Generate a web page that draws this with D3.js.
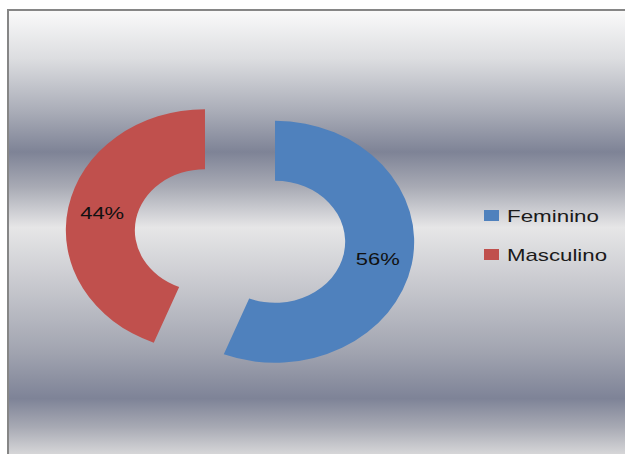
<!DOCTYPE html>
<html>
<head>
<meta charset="utf-8">
<script src="https://cdn.jsdelivr.net/npm/d3@7/dist/d3.min.js"></script>
<style>
  html, body { margin: 0; padding: 0; background: #ffffff; }
  svg { display: block; }
</style>
</head>
<body>
<svg id="chart" width="625" height="454"></svg>
<script>
// Gender split of respondents
const categories = ["Feminino", "Masculino"];
const values = [56, 44];
const labels = ["56%", "44%"];
const colors = ["#4f81bd", "#c0504d"];

// Silver background bands (offset within the panel, colour)
const bgStops = [
  [0.00, "#fafafa"],
  [0.11, "#dcdde0"],
  [0.23, "#a9acb7"],
  [0.32, "#7e8396"],
  [0.40, "#a9abb5"],
  [0.49, "#e6e6e7"],
  [0.63, "#c5c6cc"],
  [0.77, "#a1a4b0"],
  [0.875, "#7e8397"],
  [0.94, "#a8aab4"],
  [1.00, "#d6d6d8"]
];

const svg = d3.select("#chart");
const W = 625, H = 454;

const defs = svg.append("defs");
const grad = defs.append("linearGradient")
  .attr("id", "silver")
  .attr("gradientUnits", "userSpaceOnUse")
  .attr("x1", 0).attr("y1", 10).attr("x2", 0).attr("y2", H);
grad.selectAll("stop").data(bgStops).join("stop")
  .attr("offset", d => d[0])
  .attr("stop-color", d => d[1]);

// Chart panel with its frame
svg.append("rect")
  .attr("x", 8).attr("y", 10)
  .attr("width", W + 20).attr("height", H + 20)
  .attr("fill", "url(#silver)")
  .attr("stroke", "#868686")
  .attr("stroke-width", 2);

// Exploded doughnut, drawn circular then stretched horizontally
const cx = 240, cy = 236, sx = 1.15;
const outerR = 121, innerR = 61, explode = 31;

const pie = d3.pie().sort(null).value(d => d);
const arcs = pie(values);
const arc = d3.arc().innerRadius(innerR).outerRadius(outerR);

const ring = svg.append("g")
  .attr("transform", `translate(${cx},${cy}) scale(${sx},1)`);

function offset(d) {
  const mid = (d.startAngle + d.endAngle) / 2;
  return [Math.sin(mid) * explode, -Math.cos(mid) * explode];
}

ring.selectAll("path").data(arcs).join("path")
  .attr("d", arc)
  .attr("transform", d => { const o = offset(d); return `translate(${o[0]},${o[1]})`; })
  .attr("fill", (d, i) => colors[i]);

// Percent labels at each ring centroid
svg.append("g").selectAll("text").data(arcs).join("text")
  .attr("x", d => { const o = offset(d); const c = arc.centroid(d); return cx + (c[0] + o[0]) * sx; })
  .attr("y", d => { const o = offset(d); const c = arc.centroid(d); return cy + c[1] + o[1]; })
  .attr("dy", "0.36em")
  .attr("text-anchor", "middle")
  .attr("font-family", "'Liberation Sans', Arial, sans-serif")
  .attr("font-size", 17)
  .attr("textLength", 44)
  .attr("lengthAdjust", "spacingAndGlyphs")
  .attr("fill", "#111")
  .text((d, i) => labels[i]);

// Legend
const legend = svg.append("g");
const legendY = [216, 255];
const legendW = [92, 100];
const item = legend.selectAll("g").data(categories).join("g")
  .attr("transform", (d, i) => `translate(484,${legendY[i]})`);
item.append("rect")
  .attr("x", 0).attr("y", -6)
  .attr("width", 15).attr("height", 11)
  .attr("fill", (d, i) => colors[i]);
item.append("text")
  .attr("x", 23).attr("y", 0)
  .attr("dy", "0.36em")
  .attr("font-family", "'Liberation Sans', Arial, sans-serif")
  .attr("font-size", 17)
  .attr("textLength", (d, i) => legendW[i])
  .attr("lengthAdjust", "spacingAndGlyphs")
  .attr("fill", "#1a1a1a")
  .text(d => d);
</script>
</body>
</html>
